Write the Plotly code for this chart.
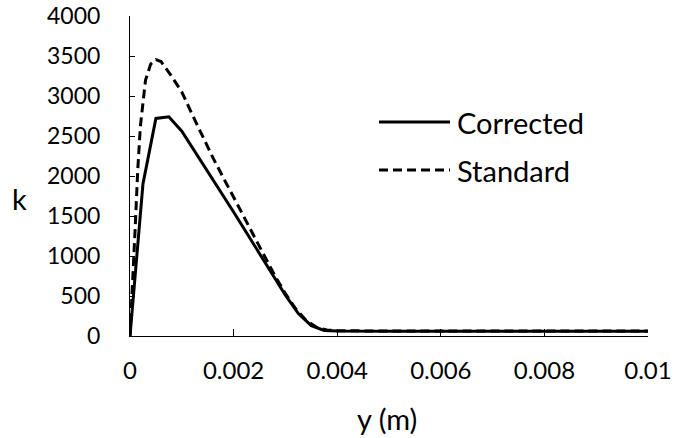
import plotly.graph_objects as go

# Corrected profile
y_corr = [0, 0.00025, 0.0005, 0.00075, 0.001, 0.00125, 0.0015, 0.00175, 0.002,
          0.00225, 0.0025, 0.00275, 0.003, 0.00325, 0.0035, 0.00375, 0.004,
          0.005, 0.006, 0.007, 0.008, 0.009, 0.01]
k_corr = [0, 1900, 2720, 2740, 2560, 2310, 2060, 1800, 1550,
          1290, 1030, 770, 510, 280, 130, 70, 62,
          60, 60, 60, 60, 60, 60]

# Standard profile
y_std = [0, 0.00005, 0.0001, 0.00015, 0.0002, 0.0003, 0.0004, 0.0005, 0.0006,
         0.0008, 0.001, 0.0012, 0.0014, 0.0016, 0.0018, 0.002, 0.0022, 0.0024,
         0.0026, 0.0028, 0.003, 0.0032, 0.0034, 0.0036, 0.0038, 0.004,
         0.005, 0.006, 0.007, 0.008, 0.009, 0.01]
k_std = [0, 600, 1350, 2080, 2620, 3200, 3400, 3455, 3430,
         3250, 3050, 2770, 2490, 2230, 1980, 1740, 1490, 1240,
         990, 750, 530, 340, 195, 110, 75, 66,
         62, 62, 62, 62, 62, 62]

x_ticks = [0, 0.002, 0.004, 0.006, 0.008, 0.01]
x_tick_labels = ["0", "0.002", "0.004", "0.006", "0.008", "0.01"]
y_ticks = [0, 500, 1000, 1500, 2000, 2500, 3000, 3500, 4000]

FONT = "Lato"
DASH = "9px,5px"

fig = go.Figure()
fig.add_trace(go.Scatter(x=y_corr, y=k_corr, mode="lines", name="Corrected",
                         line=dict(color="black", width=3)))
fig.add_trace(go.Scatter(x=y_std, y=k_std, mode="lines", name="Standard",
                         line=dict(color="black", width=3, dash=DASH)))

W, H = 691, 438
L, R, T, B = 130, 43, 16, 102
pw, ph = W - L - R, H - T - B

def px2paper(px, py):
    return (px - L) / pw, (H - B - py) / ph

shapes = []
annotations = []
for (y_px, dash, label) in [(122, "solid", "Corrected"), (170, DASH, "Standard")]:
    x0, yy = px2paper(379, y_px)
    x1, _ = px2paper(450, y_px)
    xt, _ = px2paper(455, y_px)
    shapes.append(dict(type="line", xref="paper", yref="paper", x0=x0, x1=x1, y0=yy, y1=yy,
                       line=dict(color="black", width=3, dash=dash)))
    annotations.append(dict(text=label, xref="paper", yref="paper", x=xt, y=yy,
                            xanchor="left", yanchor="middle", showarrow=False,
                            font=dict(family=FONT, size=29, color="black")))

kx, ky = px2paper(19, 198)
annotations.append(dict(text="k", xref="paper", yref="paper", x=kx, y=ky,
                        xanchor="center", yanchor="middle", showarrow=False,
                        font=dict(family=FONT, size=29, color="black")))
tx, ty = px2paper(387, 418)
annotations.append(dict(text="y (m)", xref="paper", yref="paper", x=tx, y=ty,
                        xanchor="center", yanchor="middle", showarrow=False,
                        font=dict(family=FONT, size=29, color="black")))

fig.update_layout(
    width=W, height=H,
    margin=dict(l=L, r=R, t=T, b=B, autoexpand=False),
    paper_bgcolor="white", plot_bgcolor="white",
    showlegend=False,
    font=dict(family=FONT, size=23, color="black"),
    shapes=shapes, annotations=annotations,
    xaxis=dict(range=[0, 0.01], tickvals=x_ticks, ticktext=x_tick_labels,
               showgrid=False, zeroline=False, showline=True, linecolor="black",
               linewidth=1, ticks="inside", ticklen=7, tickcolor="black",
               ticklabelstandoff=13, ticklabeloverflow="allow", automargin=False,
               tickfont=dict(size=24)),
    yaxis=dict(range=[0, 4000], tickvals=y_ticks, showgrid=False, zeroline=False,
               showline=True, linecolor="black", linewidth=1, ticks="inside",
               ticklen=5, tickcolor="black", ticklabelstandoff=24,
               ticklabeloverflow="allow", automargin=False),
)

fig.write_html("out.html")
